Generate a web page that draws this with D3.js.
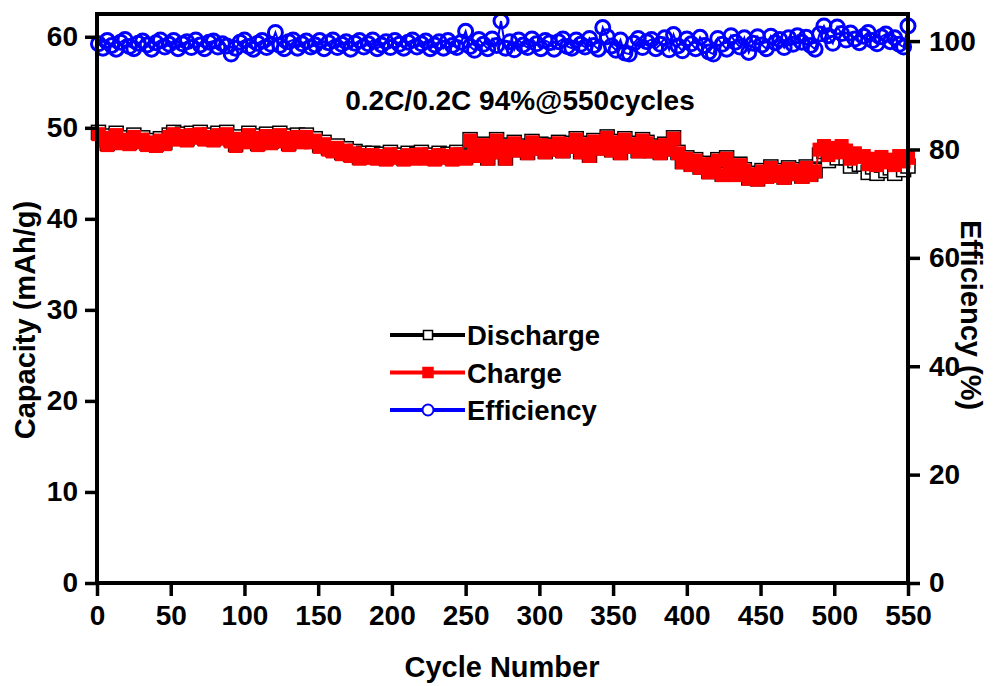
<!DOCTYPE html>
<html lang="en">
<head>
<meta charset="UTF-8">
<title>Capacity / Efficiency vs Cycle Number</title>
<script src="https://d3js.org/d3.v7.min.js"></script>
<style>
  body { margin: 0; background: #fff; }
  text { font-family: "Liberation Sans", Arial, sans-serif; font-weight: bold; fill: #000; }
</style>
</head>
<body>
<svg id="chart" width="995" height="686"></svg>
<script>
// cycle numbers (read every 3 cycles)
const cycles = [1,4,7,10,13,16,19,22,25,28,31,34,37,40,43,46,49,52,55,58,
  61,64,67,70,73,76,79,82,85,88,91,94,97,100,103,106,109,112,115,118,
  121,124,127,130,133,136,139,142,145,148,151,154,157,160,163,166,169,172,175,178,
  181,184,187,190,193,196,199,202,205,208,211,214,217,220,223,226,229,232,235,238,
  241,244,247,250,253,256,259,262,265,268,271,274,277,280,283,286,289,292,295,298,
  301,304,307,310,313,316,319,322,325,328,331,334,337,340,343,346,349,352,355,358,
  361,364,367,370,373,376,379,382,385,388,391,394,397,400,403,406,409,412,415,418,
  421,424,427,430,433,436,439,442,445,448,451,454,457,460,463,466,469,472,475,478,
  481,484,487,490,493,496,499,502,505,508,511,514,517,520,523,526,529,532,535,538,
  541,544,547,550];

// discharge capacity (mAh/g)
const discharge = [49.5,48.8,48.3,49.1,49.4,48.5,48.9,48.4,49.2,48.6,
  48.9,48.3,48.6,48.2,48.8,48.4,
  49.2,49.5,48.9,49.3,48.8,49.4,49.1,49.5,48.9,49.2,48.8,49.4,49.0,
  49.5,48.7,48.2,49.0,
  48.6,49.4,48.9,48.3,49.1,49.3,48.5,49.0,49.4,48.7,48.3,49.1,49.2,48.6,
  49.2,48.6,48.8,48.1,48.4,47.8,47.6,
  48.0,47.3,47.7,47.1,47.4,46.8,47.2,46.9,
  47.2,46.8,47.1,46.7,47.3,46.9,47.0,46.7,47.2,46.8,47.1,47.3,46.8,47.0,46.7,47.2,46.9,47.1,46.7,47.3,47.0,46.8,
  48.7,47.7,47.0, 48.2,46.7,47.4, 48.7,47.5,46.7,48.1,
  48.4,47.6,48.0,47.3,48.5,47.8,48.2,47.4,48.1,47.7,48.4,47.5,48.0,48.3,
  48.8,47.4,48.3,47.0,48.6,47.8,48.1,
  49.0,47.6,48.5,47.3,48.8,48.0,48.3,47.5,48.7,
  48.4,47.5,48.0,47.3,48.2,47.7,
  48.9,47.3,46.3,
  46.7,46.0,46.5,45.7,46.1,45.2,45.9,
  46.5,44.9, 46.7,45.4,44.9,46.0,
  45.4,44.5,45.0,44.4,45.3,44.7,
  45.7,44.8,45.3,44.6,45.6,45.0,45.4,44.7,
  45.7,44.9,45.3,
  47.0,47.4,46.4,47.2,46.7,47.4,
  46.7,45.8,46.4,46.0,
  46.0,45.1,45.7,45.0,45.9,45.3,45.6,45.0,46.0,45.4,45.8];

// charge capacity (mAh/g)
const charge = [49.3,48.6,48.1,48.9,49.2,48.3,48.7,48.2,49.0,48.4,
  48.7,48.1,48.4,48.0,48.6,48.2,
  49.0,49.3,48.7,49.1,48.6,49.2,48.9,49.3,48.7,49.0,48.6,49.2,48.8,
  49.3,48.5,48.0,48.8,
  48.4,49.2,48.7,48.1,48.9,49.1,48.3,48.8,49.2,48.5,48.1,48.9,49.0,48.4,
  49.0,48.4,48.6,47.9,48.2,47.6,47.4,
  47.8,47.1,47.5,46.9,47.2,46.6,47.0,46.7,
  47.0,46.6,46.9,46.5,47.1,46.7,46.8,46.5,47.0,46.6,46.9,47.1,46.6,46.8,46.5,47.0,46.7,46.9,46.5,47.1,46.8,46.6,
  48.6,47.6,46.9, 48.1,46.6,47.3, 48.6,47.4,46.6,48.0,
  48.3,47.5,47.9,47.2,48.4,47.7,48.1,47.3,48.0,47.6,48.3,47.4,47.9,48.2,
  48.7,47.3,48.2,46.9,48.5,47.7,48.0,
  48.9,47.5,48.4,47.2,48.7,47.9,48.2,47.4,48.6,
  48.3,47.4,47.9,47.2,48.1,47.6,
  48.8,47.2,46.2,
  46.6,45.9,46.4,45.6,46.0,45.1,45.8,
  46.4,44.8, 46.6,45.3,44.8,45.9,
  45.3,44.4,44.9,44.3,45.2,44.6,
  45.6,44.7,45.2,44.5,45.5,44.9,45.3,44.6,
  45.6,44.8,45.2,
  47.6,48.0,47.0,47.8,47.3,48.0,
  47.5,46.6,47.2,46.8,
  46.9,46.0,46.6,45.9,46.8,46.2,46.5,45.9,46.9,46.3,46.7];

// coulombic efficiency (%)
const efficiency = [99.5,98.7,100.1,99.2,98.5,99.8,100.3,99.0,98.6,99.6,
  100.0,99.3,98.5,99.7,100.2,98.9,99.4,100.1,98.6,99.5,
  99.9,98.8,100.2,99.3,98.6,99.8,100.0,98.9,99.5,99.1,
  97.6,98.7,99.8,100.2,99.0,98.5,99.6,100.1,98.8,99.4,
  101.6,99.2,98.6,99.9,100.2,98.7,99.5,100.0,98.9,99.3,
  100.1,98.6,99.7,100.2,98.8,99.4,99.9,98.5,99.6,100.1,
  98.9,99.5,100.2,98.6,99.3,99.9,98.8,100.1,99.4,98.7,
  99.8,100.2,98.9,99.5,100.0,98.6,99.3,99.9,98.7,100.1,
  99.2,98.8,99.8,101.8,99.0,98.3,100.3,99.4,98.6,100.4,
  99.2,103.7,98.7,99.9,98.4,100.2,99.3,98.8,100.4,99.5,
  98.6,100.1,99.7,98.5,99.9,100.4,99.0,98.7,100.2,99.4,
  98.9,100.5,99.2,98.5,102.5,100.8,99.1,98.3,100.2,97.8,
  97.6,99.6,100.5,98.8,99.9,100.3,98.6,99.4,100.6,98.4,
  101.2,99.1,98.2,100.4,99.5,98.6,100.7,99.2,98.0,97.6,
  100.5,99.4,98.5,101.0,99.8,98.9,100.6,97.9,99.6,100.8,
  99.3,98.6,100.9,99.7,100.3,98.8,100.6,99.4,101.0,99.8,
  100.7,99.2,98.5,101.3,102.8,101.0,99.6,102.6,101.4,100.2,
  101.5,100.4,99.7,100.9,101.6,100.1,99.5,100.8,101.3,99.9,
  100.6,99.4,98.9,102.8];

const xTicks = [0,50,100,150,200,250,300,350,400,450,500,550];
const capTicks = [0,10,20,30,40,50,60];
const effTicks = [0,20,40,60,80,100];

const svg = d3.select("#chart");
const plotLeft = 97, plotRight = 908, plotTop = 14, plotBottom = 583;

const x = d3.scaleLinear().domain([0, 550]).range([plotLeft, plotRight]);
const yCap = d3.scaleLinear().domain([0, 62.5]).range([plotBottom, plotTop]);
const yEff = d3.scaleLinear().domain([0, 105]).range([plotBottom, plotTop]);

const pts = cycles.map((c, i) => ({c, d: discharge[i], ch: charge[i], e: efficiency[i]}));

const plot = svg.append("g");
const sq = 14; // capacity marker size

// discharge: black line + open squares
plot.append("path")
  .datum(pts)
  .attr("fill", "none").attr("stroke", "#000").attr("stroke-width", 2)
  .attr("d", d3.line().x(d => x(d.c)).y(d => yCap(d.d)));
plot.selectAll(".dis").data(pts).enter().append("rect")
  .attr("class", "dis")
  .attr("x", d => x(d.c) - sq / 2).attr("y", d => yCap(d.d) - sq / 2)
  .attr("width", sq).attr("height", sq)
  .attr("fill", "#fff").attr("stroke", "#000").attr("stroke-width", 1.5);

// charge: red line + filled squares
plot.append("path")
  .datum(pts)
  .attr("fill", "none").attr("stroke", "#f00").attr("stroke-width", 2)
  .attr("d", d3.line().x(d => x(d.c)).y(d => yCap(d.ch)));
plot.selectAll(".chg").data(pts).enter().append("rect")
  .attr("class", "chg")
  .attr("x", d => x(d.c) - sq / 2).attr("y", d => yCap(d.ch) - sq / 2)
  .attr("width", sq).attr("height", sq)
  .attr("fill", "#f00");

// efficiency: blue open circles
plot.append("path")
  .datum(pts)
  .attr("fill", "none").attr("stroke", "#00f").attr("stroke-width", 2)
  .attr("d", d3.line().x(d => x(d.c)).y(d => yEff(d.e)));
plot.selectAll(".eff").data(pts).enter().append("circle")
  .attr("class", "eff")
  .attr("cx", d => x(d.c)).attr("cy", d => yEff(d.e))
  .attr("r", 7)
  .attr("fill", "none").attr("stroke", "#00f").attr("stroke-width", 3);

// frame and axes
function styleAxis(g) {
  g.select(".domain").remove();
  g.selectAll(".tick line").attr("stroke", "#000").attr("stroke-width", 3.5);
  g.selectAll(".tick text").style("font-size", "28px").attr("fill", "#000");
}

svg.append("g")
  .attr("transform", `translate(0,${plotBottom})`)
  .call(d3.axisBottom(x).tickValues(xTicks).tickSize(13).tickPadding(9).tickFormat(d3.format("d")))
  .call(styleAxis);

svg.append("g")
  .attr("transform", `translate(${plotLeft},0)`)
  .call(d3.axisLeft(yCap).tickValues(capTicks).tickSize(12).tickPadding(7).tickFormat(d3.format("d")))
  .call(styleAxis);

svg.append("g")
  .attr("transform", `translate(${plotRight},0)`)
  .call(d3.axisRight(yEff).tickValues(effTicks).tickSize(12).tickPadding(9).tickFormat(d3.format("d")))
  .call(styleAxis);

svg.append("rect")
  .attr("x", plotLeft).attr("y", plotTop)
  .attr("width", plotRight - plotLeft).attr("height", plotBottom - plotTop)
  .attr("fill", "none").attr("stroke", "#000").attr("stroke-width", 4);

// axis titles
svg.append("text")
  .attr("x", 502).attr("y", 677)
  .attr("text-anchor", "middle").style("font-size", "29px")
  .text("Cycle Number");

svg.append("text")
  .attr("transform", "translate(35,320) rotate(-90)")
  .attr("text-anchor", "middle").style("font-size", "29px")
  .text("Capacity (mAh/g)");

svg.append("text")
  .attr("transform", "translate(961,315) rotate(90)")
  .attr("text-anchor", "middle").style("font-size", "29px")
  .text("Efficiency (%)");

// annotation
svg.append("text")
  .attr("x", 520).attr("y", 110)
  .attr("text-anchor", "middle").style("font-size", "28px")
  .text("0.2C/0.2C 94%@550cycles");

// legend
const legendItems = [
  {name: "Discharge", color: "#000", shape: "square", fill: "#fff", size: 9},
  {name: "Charge", color: "#f00", shape: "square", fill: "#f00", size: 10},
  {name: "Efficiency", color: "#00f", shape: "circle", fill: "#fff", size: 5.5}
];
const legend = svg.append("g").attr("transform", "translate(390,335)");
legendItems.forEach((it, i) => {
  const g = legend.append("g").attr("transform", `translate(0,${i * 37.5})`);
  g.append("line").attr("x1", 0).attr("x2", 75).attr("y1", 0).attr("y2", 0)
    .attr("stroke", it.color).attr("stroke-width", 4);
  if (it.shape === "square") {
    g.append("rect").attr("x", 38 - it.size / 2).attr("y", -it.size / 2)
      .attr("width", it.size).attr("height", it.size)
      .attr("fill", it.fill).attr("stroke", it.color).attr("stroke-width", 1.5);
  } else {
    g.append("circle").attr("cx", 38).attr("cy", 0).attr("r", it.size)
      .attr("fill", it.fill).attr("stroke", it.color).attr("stroke-width", 2);
  }
  g.append("text").attr("x", 77).attr("y", 10).style("font-size", "27.5px").text(it.name);
});
</script>
</body>
</html>
